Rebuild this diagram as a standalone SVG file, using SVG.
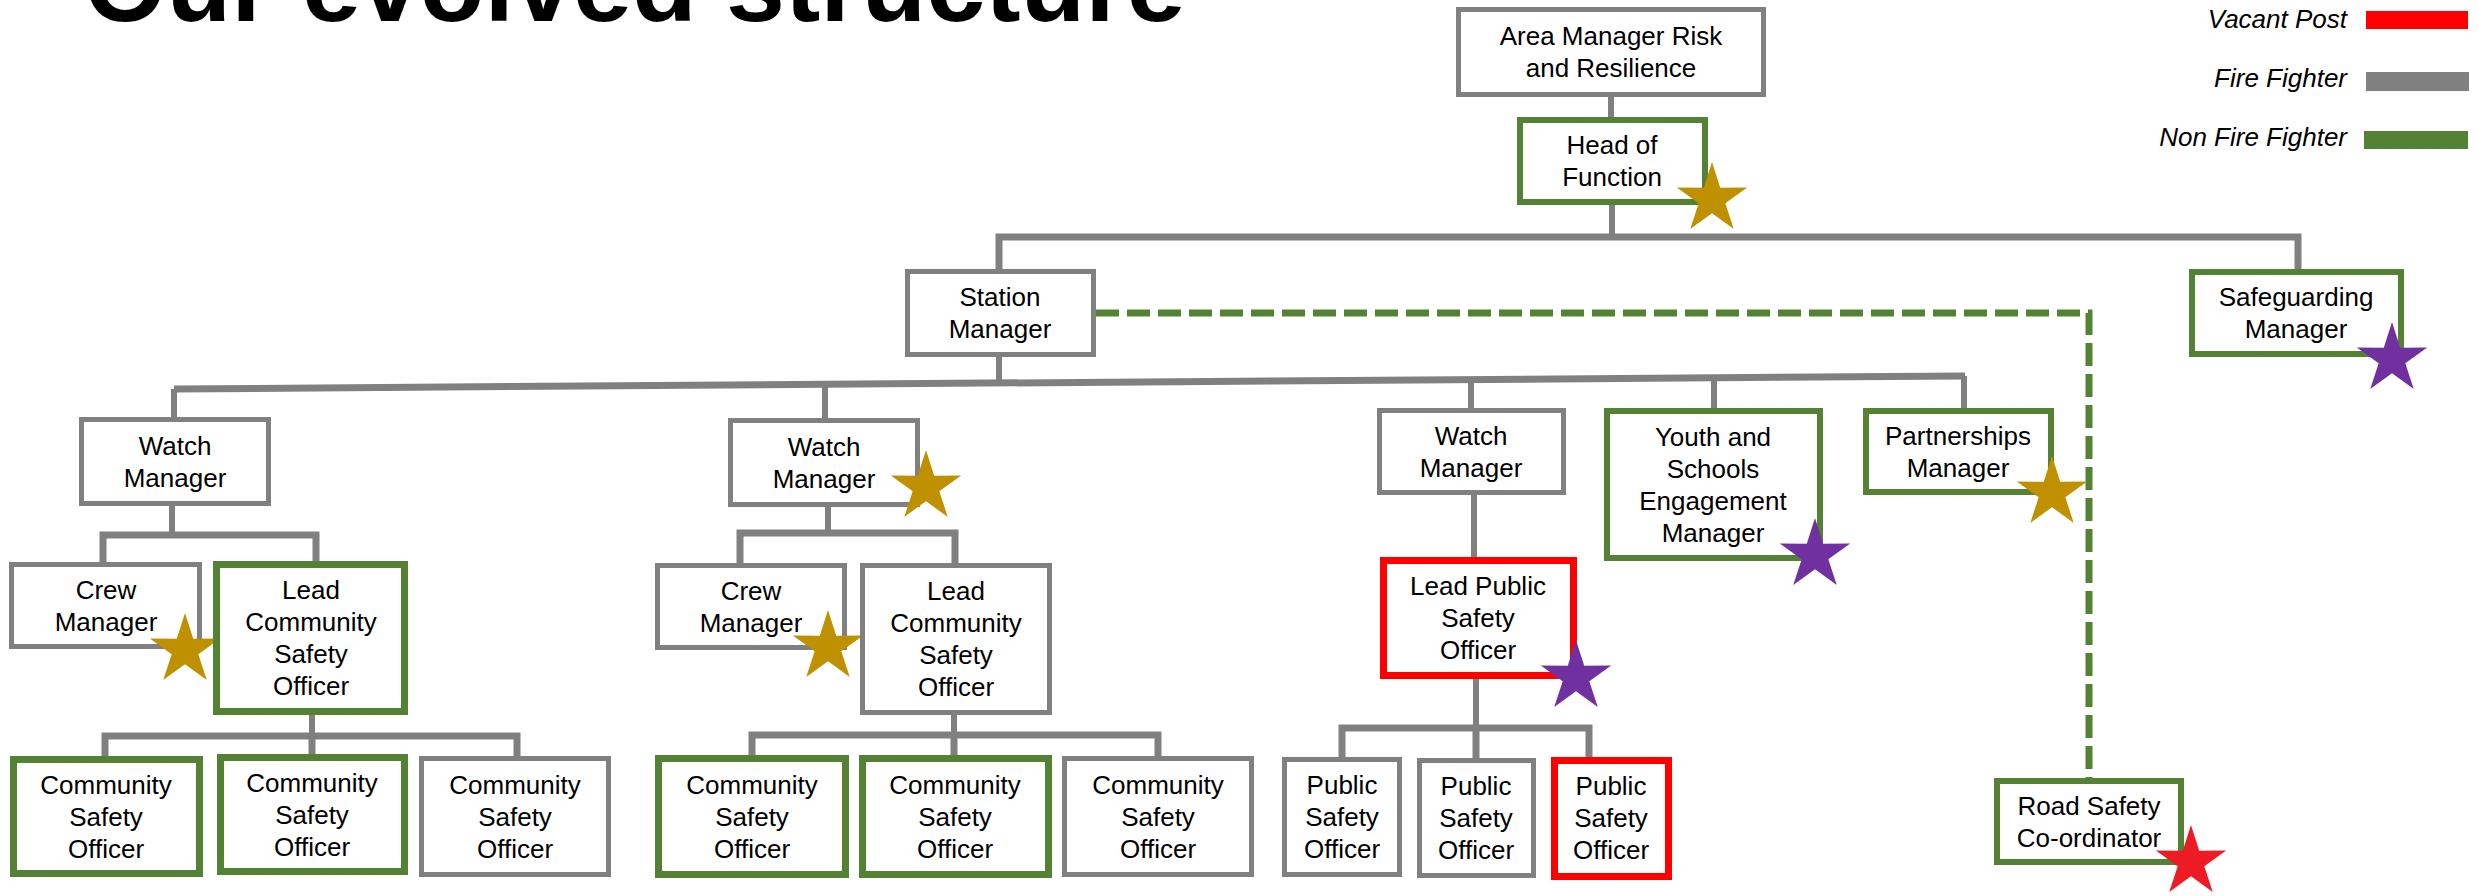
<svg xmlns="http://www.w3.org/2000/svg" width="2479" height="896" viewBox="0 0 2479 896">
<defs>
<style>
text{font-family:"Liberation Sans",Arial,sans-serif;fill:#000}
.t{font-size:26px;text-anchor:middle}
.lg{font-size:26px;font-style:italic;text-anchor:end}
.title{font-size:106px;font-weight:bold}
.box{fill:#fff}
.g{stroke:#808080;stroke-width:5}
.n{stroke:#548235;stroke-width:6}
.n7{stroke:#548235;stroke-width:7}
.r{stroke:#FF0000;stroke-width:7}
.c{fill:none;stroke:#808080;stroke-width:6}
.bar{fill:none;stroke:#808080;stroke-width:7}
.dash{fill:none;stroke:#548235;stroke-width:7;stroke-dasharray:23 8}
</style>
<polygon id="star" points="0,-37 8.23,-11.33 35.19,-11.43 13.32,4.33 21.75,29.93 0,14.14 -21.75,29.93 -13.32,4.33 -35.19,-11.43 -8.23,-11.33"/>
</defs>
<rect width="2479" height="896" fill="#fff"/>
<text class="title" x="84" y="21">Our evolved structure</text>

<g id="legend">
<text class="lg" x="2347" y="28">Vacant Post</text>
<rect x="2366" y="11" width="102" height="18" fill="#FF0000"/>
<text class="lg" x="2347" y="87">Fire Fighter</text>
<rect x="2366" y="72" width="103" height="19" fill="#808080"/>
<text class="lg" x="2347" y="146">Non Fire Fighter</text>
<rect x="2364" y="131" width="104" height="18" fill="#548235"/>
</g>

<g id="connectors">
<path class="c" d="M1611,97V117"/>
<path class="c" d="M1612,205V237"/>
<path class="bar" d="M999,269V237H2298V269"/>
<path class="c" d="M999,357V384"/>
<path class="bar" d="M174,389L1965,376"/>
<path class="c" d="M174,389V417M825,384V418M1471,379.5V408M1714,377.5V408M1964,376V408"/>
<path class="c" d="M172,506V535"/>
<path class="bar" d="M103,562V535H316V561"/>
<path class="c" d="M312,715V736"/>
<path class="bar" d="M105,756V736H517V756M312,736V754"/>
<path class="c" d="M828,507V533"/>
<path class="bar" d="M740,563V533H955V563"/>
<path class="c" d="M954,715V735"/>
<path class="bar" d="M752,755V735H1158V756M954,735V755"/>
<path class="c" d="M1474,495V557"/>
<path class="c" d="M1476,679V728"/>
<path class="bar" d="M1342,757V728H1589V757M1476,728V758"/>
<path class="dash" d="M1096,313H2089V778"/>
</g>

<g id="n-am"><rect class="box g" x="1458.5" y="9.5" width="305" height="85"/><text class="t" x="1611" y="45">Area Manager Risk</text><text class="t" x="1611" y="77">and Resilience</text></g>
<g id="n-hof"><rect class="box n" x="1520" y="120" width="185" height="82"/><text class="t" x="1612" y="154">Head of</text><text class="t" x="1612" y="186">Function</text><use href="#star" x="1712" y="199" fill="#BF9000"/></g>
<g id="n-sm"><rect class="box g" x="907.5" y="271.5" width="186" height="83"/><text class="t" x="1000" y="306">Station</text><text class="t" x="1000" y="338">Manager</text></g>
<g id="n-safe"><rect class="box n" x="2192" y="272" width="209" height="82"/><text class="t" x="2296" y="306">Safeguarding</text><text class="t" x="2296" y="338">Manager</text><use href="#star" x="2392" y="359" fill="#7030A0"/></g>

<g id="n-wm1"><rect class="box g" x="81.5" y="419.5" width="187" height="84"/><text class="t" x="175" y="454.5">Watch</text><text class="t" x="175" y="486.5">Manager</text></g>
<g id="n-wm2"><rect class="box g" x="730.5" y="420.5" width="187" height="84"/><text class="t" x="824" y="455.5">Watch</text><text class="t" x="824" y="487.5">Manager</text><use href="#star" x="926" y="487" fill="#BF9000"/></g>
<g id="n-wm3"><rect class="box g" x="1379.5" y="410.5" width="184" height="82"/><text class="t" x="1471" y="444.5">Watch</text><text class="t" x="1471" y="476.5">Manager</text></g>
<g id="n-youth"><rect class="box n" x="1607" y="411" width="213" height="147"/><text class="t" x="1713" y="445.5">Youth and</text><text class="t" x="1713" y="477.5">Schools</text><text class="t" x="1713" y="509.5">Engagement</text><text class="t" x="1713" y="541.5">Manager</text><use href="#star" x="1815" y="555" fill="#7030A0"/></g>
<g id="n-part"><rect class="box n" x="1866" y="411" width="185" height="81"/><text class="t" x="1958" y="444.5">Partnerships</text><text class="t" x="1958" y="476.5">Manager</text><use href="#star" x="2052" y="493" fill="#BF9000"/></g>

<g id="n-crew1"><rect class="box g" x="11.5" y="564.5" width="188" height="82"/><text class="t" x="106" y="598.5">Crew</text><text class="t" x="106" y="630.5">Manager</text><use href="#star" x="185" y="650" fill="#BF9000"/></g>
<g id="n-lcso1"><rect class="box n7" x="216.5" y="564.5" width="188" height="147"/><text class="t" x="311" y="599">Lead</text><text class="t" x="311" y="631">Community</text><text class="t" x="311" y="663">Safety</text><text class="t" x="311" y="695">Officer</text></g>
<g id="n-crew2"><rect class="box g" x="657.5" y="565.5" width="187" height="82"/><text class="t" x="751" y="599.5">Crew</text><text class="t" x="751" y="631.5">Manager</text><use href="#star" x="828" y="647" fill="#BF9000"/></g>
<g id="n-lcso2"><rect class="box g" x="862.5" y="565.5" width="187" height="147"/><text class="t" x="956" y="600">Lead</text><text class="t" x="956" y="632">Community</text><text class="t" x="956" y="664">Safety</text><text class="t" x="956" y="696">Officer</text></g>
<g id="n-lpso"><rect class="box r" x="1383.5" y="560.5" width="190" height="115"/><text class="t" x="1478" y="595">Lead Public</text><text class="t" x="1478" y="627">Safety</text><text class="t" x="1478" y="659">Officer</text><use href="#star" x="1576" y="677" fill="#7030A0"/></g>

<g id="n-cso1"><rect class="box n7" x="13.5" y="759.5" width="186" height="114"/><text class="t" x="106" y="793.5">Community</text><text class="t" x="106" y="825.5">Safety</text><text class="t" x="106" y="857.5">Officer</text></g>
<g id="n-cso2"><rect class="box n7" x="220.5" y="757.5" width="184" height="114"/><text class="t" x="312" y="791.5">Community</text><text class="t" x="312" y="823.5">Safety</text><text class="t" x="312" y="855.5">Officer</text></g>
<g id="n-cso3"><rect class="box g" x="421.5" y="758.5" width="187" height="116"/><text class="t" x="515" y="793.5">Community</text><text class="t" x="515" y="825.5">Safety</text><text class="t" x="515" y="857.5">Officer</text></g>
<g id="n-cso4"><rect class="box n7" x="658.5" y="758.5" width="187" height="116"/><text class="t" x="752" y="793.5">Community</text><text class="t" x="752" y="825.5">Safety</text><text class="t" x="752" y="857.5">Officer</text></g>
<g id="n-cso5"><rect class="box n7" x="862.5" y="758.5" width="186" height="116"/><text class="t" x="955" y="793.5">Community</text><text class="t" x="955" y="825.5">Safety</text><text class="t" x="955" y="857.5">Officer</text></g>
<g id="n-cso6"><rect class="box g" x="1064.5" y="758.5" width="187" height="116"/><text class="t" x="1158" y="793.5">Community</text><text class="t" x="1158" y="825.5">Safety</text><text class="t" x="1158" y="857.5">Officer</text></g>
<g id="n-pso1"><rect class="box g" x="1284.5" y="759.5" width="115" height="115"/><text class="t" x="1342" y="794">Public</text><text class="t" x="1342" y="826">Safety</text><text class="t" x="1342" y="858">Officer</text></g>
<g id="n-pso2"><rect class="box g" x="1419.5" y="760.5" width="114" height="115"/><text class="t" x="1476" y="795">Public</text><text class="t" x="1476" y="827">Safety</text><text class="t" x="1476" y="859">Officer</text></g>
<g id="n-pso3"><rect class="box r" x="1554.5" y="760.5" width="114" height="116"/><text class="t" x="1611" y="795">Public</text><text class="t" x="1611" y="827">Safety</text><text class="t" x="1611" y="859">Officer</text></g>
<g id="n-road"><rect class="box n" x="1997" y="781" width="184" height="81"/><text class="t" x="2089" y="814.5">Road Safety</text><text class="t" x="2089" y="846.5">Co-ordinator</text><use href="#star" x="2191" y="862" fill="#ED1C24"/></g>
</svg>
